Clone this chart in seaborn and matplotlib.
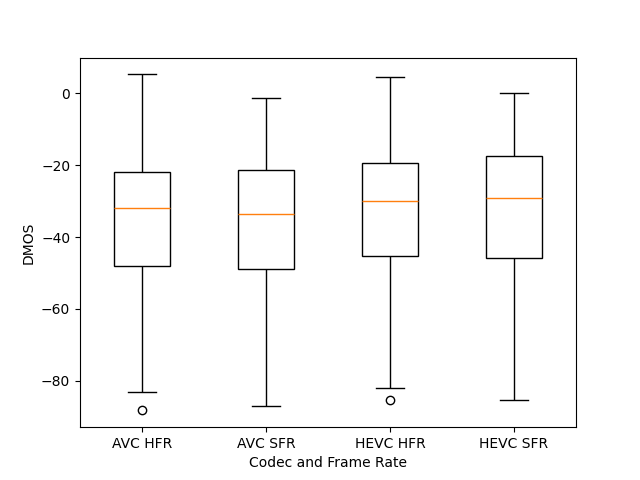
import pandas as pd
import matplotlib
matplotlib.use('Agg')
import matplotlib.pyplot as plt
import seaborn as sns

# DMOS scores per codec / frame rate
groups = ['AVC HFR', 'AVC SFR', 'HEVC HFR', 'HEVC SFR']
avc_hfr = [-88.3, -83.2, -48.2, -40.5, -32.0, -27.0, -22.0, -8.0, 5.3]
avc_sfr = [-87.1, -62.0, -49.0, -41.0, -33.7, -27.5, -21.4, -10.0, -1.4]
hevc_hfr = [-85.5, -82.1, -45.4, -38.0, -30.1, -24.5, -19.5, -6.0, 4.45]
hevc_sfr = [-85.5, -60.0, -45.9, -37.0, -29.0, -23.0, -17.5, -7.0, 0.0]

vals = [avc_hfr, avc_sfr, hevc_hfr, hevc_sfr]
df = pd.DataFrame({
    'group': [g for g, v in zip(groups, vals) for _ in v],
    'DMOS': [x for v in vals for x in v],
})

fig, ax = plt.subplots(figsize=(6.4, 4.8), dpi=100)
sns.boxplot(data=df, x='group', y='DMOS', order=groups, ax=ax,
            width=0.45, color='white', linecolor='black', linewidth=1,
            medianprops={'color': '#ff7f0e', 'linewidth': 1},
            flierprops={'marker': 'o', 'markerfacecolor': 'none',
                        'markeredgecolor': 'black', 'markersize': 6})

ax.set_xlabel('Codec and Frame Rate')
ax.set_ylabel('DMOS')

fig.savefig('out.png', dpi=100)
